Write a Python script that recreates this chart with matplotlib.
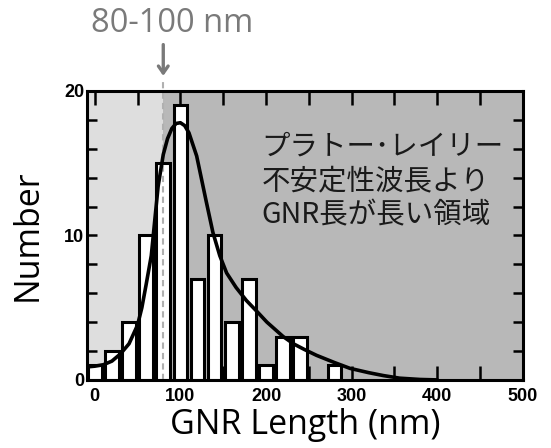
import matplotlib
matplotlib.use("Agg")
import matplotlib.pyplot as plt
import numpy as np

plt.rcParams.update({
    "font.family": ["Open Sans", "DejaVu Sans"],
    "xtick.direction": "in", "ytick.direction": "in",
})

# histogram data (bin centres in nm, counts)
bin_centers = [0, 20, 40, 60, 80, 100, 120, 140, 160, 180, 200, 220, 240, 260, 280]
counts = [1, 2, 4, 10, 15, 19, 7, 10, 4, 7, 1, 3, 3, 0, 1]

# fitted curve
fit_x = [-9, 0, 10, 20, 30, 40, 50, 55, 60, 66, 70, 74, 80, 85, 90, 95, 100, 105, 110,
         119, 130, 138, 146, 154, 165, 177, 190, 201, 220, 232, 245, 259, 280, 298,
         320, 337, 356, 380, 400]
fit_y = [0.9, 0.95, 1.05, 1.3, 1.8, 2.5, 3.8, 5.0, 6.6, 8.6, 11.0, 13.4, 15.6, 16.7, 17.4,
         17.75, 17.8, 17.6, 17.1, 15.5, 12.4, 10.2, 8.6, 7.4, 6.4, 5.5, 4.7, 4.0, 3.0,
         2.5, 2.1, 1.7, 1.2, 0.8, 0.5, 0.3, 0.12, 0.03, 0.0]

threshold = 80  # Plateau-Rayleigh wavelength
xlim = (-9, 500)

LIGHT = "#dedede"; DARK = "#b8b8b8"; GRAYTXT = "#7a7a7a"

fig = plt.figure(figsize=(5.51, 4.48), dpi=100)
ax = fig.add_axes([0.158, 0.152, 0.791, 0.645])

ax.axvspan(xlim[0], threshold, color=LIGHT, zorder=0, lw=0)
ax.axvspan(threshold, xlim[1], color=DARK, zorder=0, lw=0)

ax.bar(bin_centers, counts, width=16, color="white", edgecolor="black",
       linewidth=2.2, zorder=2)
ax.plot([threshold, threshold], [0, 20.8], ls=(0, (3, 2)), color="#b0b0b0",
        lw=1.5, zorder=3, clip_on=False)
ax.plot(fit_x, fit_y, color="black", lw=2.6, zorder=4, solid_capstyle="round")

ax.set_xlim(*xlim)
ax.set_ylim(0, 20)
ax.set_xticks(np.arange(0, 501, 100))
ax.set_xticks(np.arange(0, 501, 50), minor=True)
ax.set_yticks([0, 10, 20])
ax.set_yticks(np.arange(0, 21, 2), minor=True)
ax.tick_params(which="both", top=True, right=True, width=1.8, color="black")
ax.tick_params(axis="x", which="both", length=10)
ax.tick_params(axis="y", which="both", length=7)
ax.tick_params(axis="both", which="major", labelsize=13)
for lab in ax.get_xticklabels() + ax.get_yticklabels():
    lab.set_fontfamily("Liberation Sans")
    lab.set_fontweight("bold")
ax.tick_params(axis="x", pad=6)
ax.tick_params(axis="y", pad=2)
for sp in ax.spines.values():
    sp.set_linewidth(2.2)
    sp.set_zorder(5)

ax.set_xlabel("GNR Length (nm)", fontsize=24.5, labelpad=2)
ax.set_ylabel("Number", fontsize=24.5, labelpad=14)

ax.text(0.40, 0.86, "プラトー･レイリー\n不安定性波長より\nGNR長が長い領域",
        transform=ax.transAxes, fontsize=20.5, linespacing=1.2,
        family=["Noto Sans CJK JP", "DejaVu Sans"], color="#1a1a1a",
        va="top", ha="left", zorder=6)

ax.annotate("", xy=(threshold, 20.85), xytext=(threshold, 23.4),
            arrowprops=dict(arrowstyle="->, head_width=0.35, head_length=0.5",
                            color=GRAYTXT, lw=2.4), annotation_clip=False)
ax.text(90, 24.7, "80-100 nm", fontsize=23.5, color=GRAYTXT, ha="center",
        va="center", clip_on=False)

fig.savefig("out.png", dpi=100)
